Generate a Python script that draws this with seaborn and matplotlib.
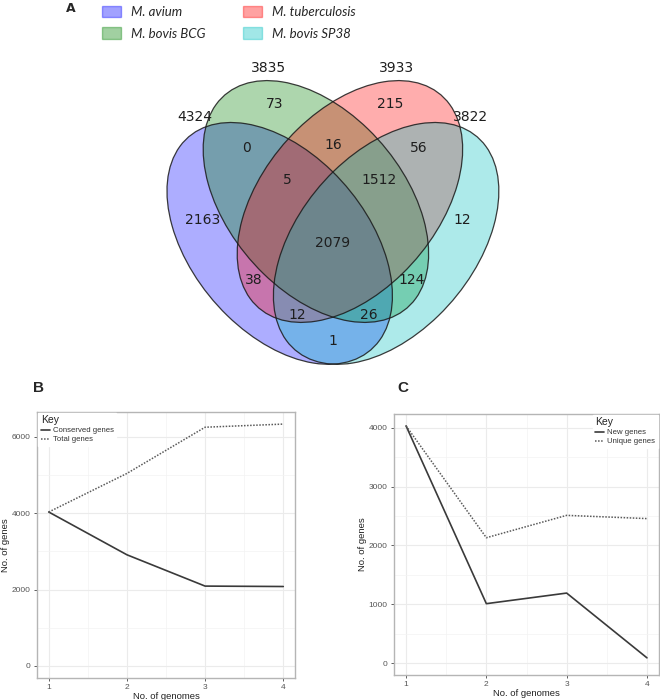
import numpy as np
import pandas as pd
import matplotlib
matplotlib.use("Agg")
import matplotlib.pyplot as plt
import seaborn as sns
from matplotlib.patches import Ellipse, Patch
from matplotlib.ticker import MultipleLocator

# ---------------- data ----------------
venn_names = ["M. avium", "M. bovis BCG", "M. tuberculosis", "M. bovis SP38"]
set_totals = [4324, 3835, 3933, 3822]
region_keys = ["1000", "0100", "0010", "0001", "1100", "0110", "0011", "1110",
               "0111", "1111", "1010", "0101", "1011", "1101", "1001"]
region_counts = [2163, 73, 215, 12, 0, 16, 56, 5, 1512, 2079, 38, 124, 12, 26, 1]

genomes = [1, 2, 3, 4]
conserved_genes = [4030, 2910, 2090, 2079]
total_genes = [4030, 5040, 6250, 6332]
new_genes = [4030, 1010, 1190, 90]
unique_genes = [4030, 2130, 2510, 2455]

# ---------------- style ----------------
sns.set_theme(style="white")
plt.rcParams["font.family"] = ["DejaVu Sans"]

venn_colors = ["#0000ff", "#008000", "#ff0000", "#00bfbf"]
venn_alpha = 0.32

fig = plt.figure(figsize=(6.6, 7.0), dpi=100)

# ---------------- Venn (panel A) ----------------
# unit venn coordinates -> pixel: px = X0 + x*SX ; py = Y0 - y*SY
X0, SX, Y0, SY = 153.0, 362.0, 411.0, 419.0
axv = fig.add_axes([0, 0, 1, 1])
axv.set_xlim(-X0 / SX, (660 - X0) / SX)
axv.set_ylim((Y0 - 700) / SY, Y0 / SY)
axv.axis("off")

def u(px, py):
    return (px - X0) / SX, (Y0 - py) / SY

centers = [(0.350, 0.400), (0.450, 0.500), (0.544, 0.500), (0.644, 0.400)]
angles = [140, 140, 40, 40]
for (cx, cy), ang, col in zip(centers, angles, venn_colors):
    axv.add_patch(Ellipse((cx, cy), 0.72, 0.45, angle=ang, facecolor=col,
                          alpha=venn_alpha, edgecolor="none"))
for (cx, cy), ang in zip(centers, angles):
    axv.add_patch(Ellipse((cx, cy), 0.72, 0.45, angle=ang, fill=False,
                          edgecolor="#1a1a1a", lw=0.9, alpha=0.85))

region_pos = {"1000": (203, 220), "0100": (275, 104), "0010": (390, 104),
              "0001": (462, 220), "1100": (247, 148), "0110": (333, 145),
              "0011": (419, 148), "1110": (287, 180), "0111": (379, 180),
              "1111": (333, 243), "1010": (254, 280), "0101": (412, 280),
              "1011": (297, 315), "1101": (369, 315), "1001": (333, 341)}
for key, cnt in zip(region_keys, region_counts):
    x, y = u(*region_pos[key])
    axv.text(x, y, str(cnt), ha="center", va="center", fontsize=10, color="#1e1e1e")

total_pos = [(195, 117), (268, 68), (397, 68), (470, 117)]
for (px, py), tot in zip(total_pos, set_totals):
    x, y = u(px, py)
    axv.text(x, y, str(tot), ha="center", va="center", fontsize=10, color="#1e1e1e")

handles = [Patch(facecolor=c, edgecolor=c, alpha=venn_alpha + 0.05) for c in venn_colors]
fig.legend(handles, venn_names, ncol=2, loc="upper left",
           bbox_to_anchor=(91 / 660, 1 + 5 / 700), frameon=False,
           prop={"family": "Lato", "style": "italic", "size": 9.5},
           handlelength=1.45, handleheight=1.0, handletextpad=0.75,
           columnspacing=2.85, labelspacing=0.72, borderpad=0.3)

fig.text(71 / 660, 1 - 8 / 700, "A", ha="center", va="center",
         fontsize=9, fontweight="bold", family="Liberation Sans Narrow")

# ---------------- line panels ----------------
def style_panel(ax, ymax, ymajor, yminor):
    ax.set_xlim(0.85, 4.15)
    ax.set_ylim(-0.05 * ymax, ymax * 1.05)
    ax.set_xticks(genomes)
    ax.yaxis.set_major_locator(MultipleLocator(ymajor))
    ax.xaxis.set_minor_locator(MultipleLocator(0.5))
    ax.yaxis.set_minor_locator(MultipleLocator(yminor))
    ax.grid(which="major", color="#ebebeb", lw=0.8)
    ax.grid(which="minor", color="#f3f3f3", lw=0.5)
    ax.set_axisbelow(True)
    for sp in ax.spines.values():
        sp.set_color("#b5b5b5")
        sp.set_linewidth(1.0)
    ax.tick_params(which="major", length=2.5, width=0.6, color="#444444",
                   labelsize=6, labelcolor="#555555", pad=2, left=True, bottom=True)
    ax.tick_params(which="minor", length=0)
    for lab in ax.get_xticklabels() + ax.get_yticklabels():
        lab.set_family("Liberation Sans")
    ax.set_xlabel("No. of genomes", fontsize=6.8, family="Liberation Sans",
                  color="#222222", labelpad=0.5)
    ax.set_ylabel("No. of genes", fontsize=6.8, family="Liberation Sans",
                  color="#222222", labelpad=1.5)

axB = fig.add_axes([37 / 660, 22 / 700, 258 / 660, 266 / 700])
sns.lineplot(x=genomes, y=conserved_genes, ax=axB, color="#3a3a3a", lw=1.2,
             label="Conserved genes")
sns.lineplot(x=genomes, y=total_genes, ax=axB, color="#5a5a5a", lw=1.1,
             linestyle=(0, (1, 1)), label="Total genes")
style_panel(axB, max(total_genes), 2000, 1000)

axC = fig.add_axes([394 / 660, 25 / 700, 265 / 660, 261 / 700])
sns.lineplot(x=genomes, y=new_genes, ax=axC, color="#3a3a3a", lw=1.2,
             label="New genes")
sns.lineplot(x=genomes, y=unique_genes, ax=axC, color="#5a5a5a", lw=1.1,
             linestyle=(0, (1, 1)), label="Unique genes")
style_panel(axC, max(new_genes + unique_genes), 1000, 500)

leg_kw = dict(title="Key", frameon=True, facecolor="white", edgecolor="white",
              framealpha=1, fancybox=False, handlelength=1.1, handletextpad=0.4,
              borderpad=0.35, labelspacing=0.2, alignment="left",
              prop={"family": "Liberation Sans", "size": 5.6},
              title_fontproperties={"family": "Liberation Sans", "size": 7.5})
lb = axB.legend(loc="upper left", bbox_to_anchor=(-0.01, 1.012), **leg_kw)
lc = axC.legend(loc="upper right", bbox_to_anchor=(1.01, 1.012), **leg_kw)
for lg in (lb, lc):
    lg.get_title().set_color("#222222")
    for t in lg.get_texts():
        t.set_color("#333333")

fig.text(38 / 660, 1 - 388 / 700, "B", ha="center", va="center",
         fontsize=11, fontweight="bold", family="Liberation Sans")
fig.text(403 / 660, 1 - 388 / 700, "C", ha="center", va="center",
         fontsize=11, fontweight="bold", family="Liberation Sans")

fig.savefig("out.png", dpi=100)
